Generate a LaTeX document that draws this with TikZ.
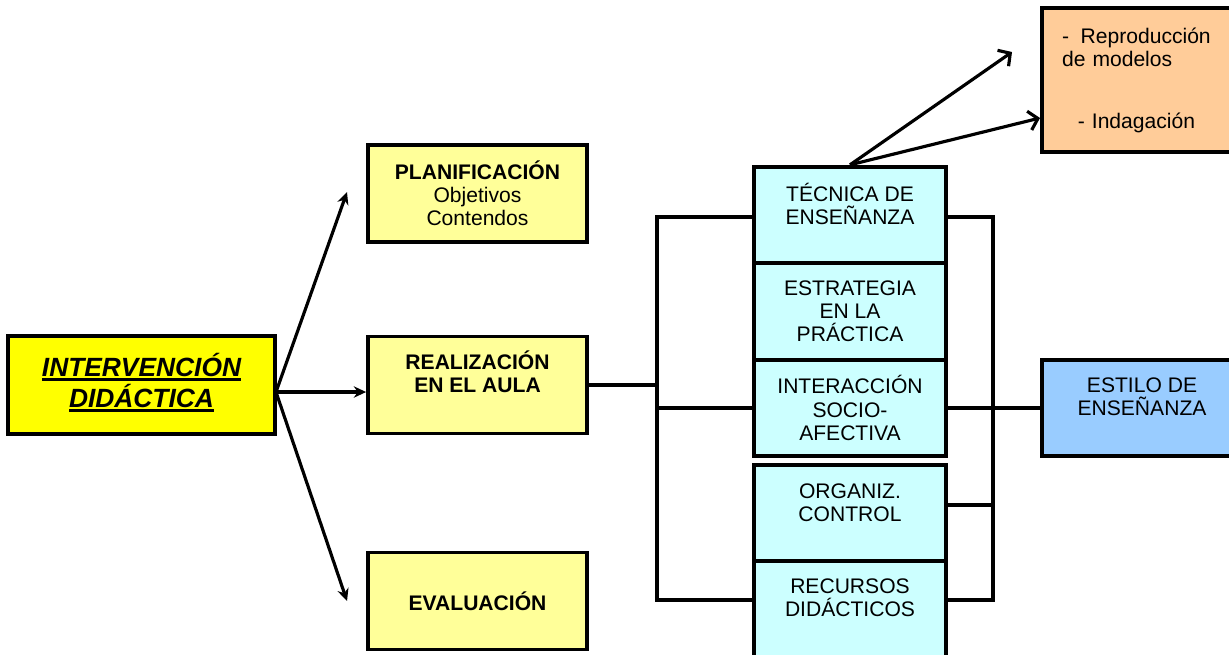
\documentclass[tikz,border=0pt]{standalone}
\usepackage{fontspec}
\setmainfont{Liberation Sans}
\usetikzlibrary{arrows.meta}

\definecolor{strongyellow}{HTML}{FFFF00}
\definecolor{paleyellow}{HTML}{FFFF99}
\definecolor{palecyan}{HTML}{CCFFFF}
\definecolor{paleblue}{HTML}{99CCFF}
\definecolor{paleorange}{HTML}{FFCC99}

% thick underline for the title box
\newcommand{\thickul}[1]{\setbox0\hbox{#1}\rlap{\rule[-2.6pt]{\wd0}{1.3pt}}\box0}

\tikzset{
    box/.style={draw, line width=2.2pt, inner sep=0pt, align=center,
        font=\fontsize{12}{13.2}\selectfont},
    mainbox/.style={box, fill=strongyellow, minimum width=5.34cm, minimum height=1.96cm,
        font=\fontsize{15}{17.6}\selectfont\bfseries\itshape},
    phasebox/.style={box, fill=paleyellow, minimum width=4.38cm, minimum height=1.94cm},
    factorbox/.style={box, fill=palecyan, minimum width=3.84cm, minimum height=1.93cm},
    link/.style={line width=2.2pt},
    arrow/.style={line width=1.8pt, -{Stealth[length=7pt,width=6.5pt]}},
    openarrow/.style={line width=1.8pt, -{Straight Barb[length=5pt,width=11pt,line width=1.8pt]}},
}

\begin{document}
\begin{tikzpicture}[x=0.02cm,y=-0.02cm]
    \useasboundingbox (0,0) rectangle (1229,654);

    %% left part
    \node[mainbox, text depth=0.2cm] (interv) at (141.5,385)
        {\thickul{INTERVENCIÓN}\\ \thickul{DIDÁCTICA}};
    \node[phasebox] (plan) at (477.5,193.5)
        {\textbf{PLANIFICACIÓN}\\Objetivos\\Contendos};
    \node[phasebox, text depth=0.55cm] (real) at (477.5,385)
        {\textbf{REALIZACIÓN}\\\textbf{EN EL AULA}};
    \node[phasebox] (eval) at (477.5,601) {\textbf{EVALUACIÓN}};

    \coordinate (fork) at (276,392);
    \coordinate (planin) at (347,192);
    \coordinate (evalin) at (347,601);
    \draw[arrow] (fork) -- (planin);
    \draw[arrow] (fork) -- (fork -| real.west);
    \draw[arrow] (fork) -- (evalin);

    %% factors of the lesson
    \node[factorbox, text depth=0.45cm] (tec) at (850,215) {TÉCNICA DE\\ENSEÑANZA};
    \node[factorbox] (estr) at (850,311.5) {ESTRATEGIA\\EN LA\\PRÁCTICA};
    \node[factorbox] (inter) at (850,408) {INTERACCIÓN\\SOCIO-\\AFECTIVA};
    \node[factorbox, text depth=0.42cm] (org) at (850,513) {ORGANIZ.\\CONTROL};
    \node[factorbox, text depth=0.45cm] (rec) at (850,609) {RECURSOS\\DIDÁCTICOS};

    \coordinate (ltop) at (657,217);
    \coordinate (lbot) at (657,600);
    \coordinate (rtop) at (993,217);
    \coordinate (rbot) at (993,600);
    \coordinate (rmid) at (993,505);

    \draw[link] (real.east) -- (real.east -| ltop);
    \draw[link] (tec.west |- ltop) -- (ltop) -- (lbot) -- (rec.west |- lbot);
    \draw[link] (inter.west) -- (inter.west -| ltop);
    \draw[link] (tec.east |- rtop) -- (rtop) -- (rbot) -- (rec.east |- rbot);
    \draw[link] (org.east |- rmid) -- (rmid);

    %% right part
    \node[box, fill=paleblue, minimum width=4cm, minimum height=1.92cm, text depth=0.45cm]
        (estilo) at (1142,408) {ESTILO DE\\ENSEÑANZA};
    \draw[link] (inter.east) -- (estilo.west);

    \node[box, fill=paleorange, minimum width=3.96cm, minimum height=2.88cm,
        text width=3.16cm, align=left] (modes) at (1141,80)
        {-\hspace{0.55em}Reproducción\\de modelos\\[22pt]\hspace{0.75em}- Indagación};

    \coordinate (repin) at (1012,52);
    \coordinate (indin) at (1040,118);
    \draw[openarrow] (tec.north) -- (repin);
    \draw[openarrow] (tec.north) -- (indin);
\end{tikzpicture}
\end{document}
